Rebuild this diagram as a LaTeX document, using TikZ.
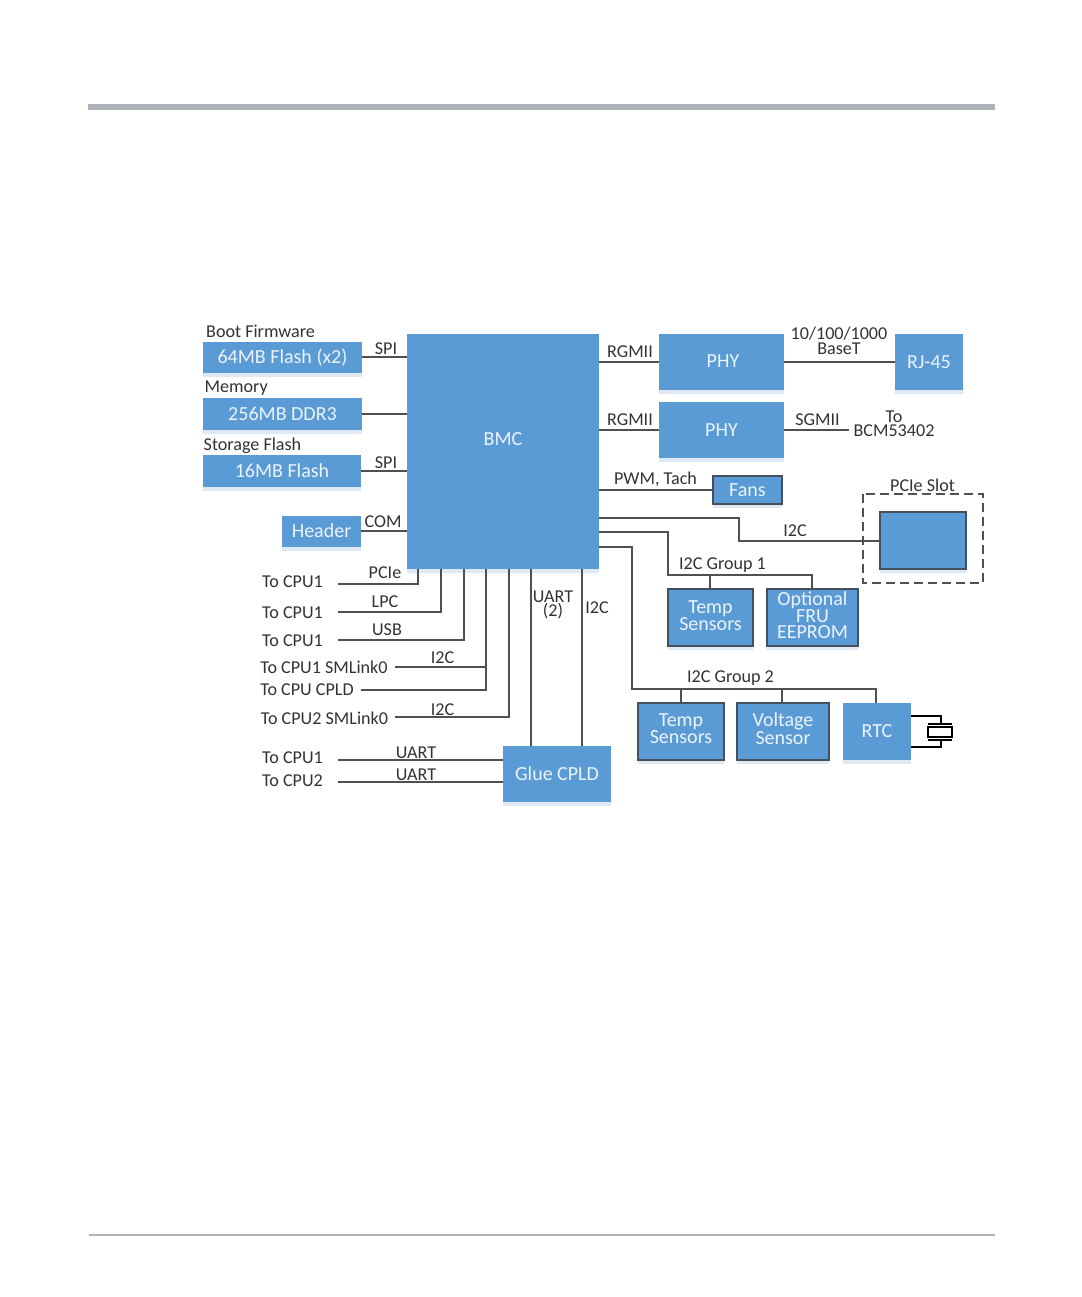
\documentclass[tikz,border=0pt]{standalone}
\usepackage{fontspec}
\setmainfont{Carlito}
\usepackage{tikz}
\pgfdeclarelayer{edgelayer}
\pgfdeclarelayer{nodelayer}
\pgfsetlayers{nodelayer,edgelayer,main}
\definecolor{chipblue}{RGB}{91,155,213}
\definecolor{chipshadow}{RGB}{222,233,245}
\definecolor{chipedge}{RGB}{70,80,92}
\definecolor{wiregrey}{RGB}{80,80,80}
\definecolor{rulegrey}{RGB}{174,178,184}
\definecolor{inkgrey}{RGB}{50,50,50}
\tikzset{
	chiptext/.style={text=white!88!chipblue, inner sep=0pt, align=center, font=\fontsize{20}{16}\selectfont},
	chip/.style={chiptext, fill=chipblue,
		preaction={draw=none, fill=chipshadow, transform canvas={yshift=-4pt}}},
	edged/.style={chip, draw=chipedge, line width=1.2pt},
	tag/.style={text=inkgrey, inner sep=0pt, align=center, yshift=-0.6pt, font=\fontsize{18.1}{14.5}\selectfont},
	wire/.style={draw=wiregrey, line width=1.4pt},
	pin/.style={draw=black, line width=1.6pt}
}
\begin{document}
\begin{tikzpicture}[x=1pt,y=1pt]
	\useasboundingbox (0,0) rectangle (1081,-1297);
	\begin{pgfonlayer}{nodelayer}
		% page rules
		\fill [rulegrey] (88,-104) rectangle (995,-110);
		\fill [rulegrey] (89,-1234) rectangle (995,-1236);
		% left side
		\node [chip, minimum width=159pt, minimum height=31pt] (flashboot) at (282.5,-357.5) {64MB Flash (x2)};
		\node [chip, minimum width=159pt, minimum height=32pt] (ddr) at (282.5,-414) {256MB DDR3};
		\node [chip, minimum width=158pt, minimum height=32pt] (flashstore) at (282,-471) {16MB Flash};
		\node [chip, minimum width=79pt, minimum height=31pt] (header) at (321.5,-531) {Header};
		\node [chip, minimum width=192pt, minimum height=235pt, label={[chiptext, yshift=12.5pt]center:BMC}] (bmc) at (503,-451.5) {};
		\node [chip, minimum width=108pt, minimum height=56pt] (glue) at (557,-774) {Glue CPLD};
		% right side
		\node [chip, minimum width=125pt, minimum height=56pt, label={[chiptext, xshift=1.5pt, yshift=1pt]center:PHY}] (phytop) at (721.5,-362) {};
		\node [chip, minimum width=125pt, minimum height=56pt] (phybot) at (721.5,-430) {PHY};
		\node [chip, minimum width=68pt, minimum height=56pt] (rj) at (929,-362) {RJ-45};
		\node [edged, minimum width=69pt, minimum height=28pt] (fans) at (747.5,-490) {Fans};
		\node [edged, minimum width=86pt, minimum height=57pt] (slot) at (923,-540.5) {};
		\node [edged, minimum width=85pt, minimum height=57pt, label={[chiptext, yshift=2pt]center:Temp\\Sensors}] (tempone) at (710.5,-617.5) {};
		\node [edged, minimum width=91pt, minimum height=57pt, label={[chiptext, yshift=2.5pt]center:Optional\\FRU\\EEPROM}] (fru) at (812.5,-617.5) {};
		\node [edged, minimum width=86pt, minimum height=57pt, label={[chiptext, yshift=2.5pt]center:Temp\\Sensors}] (temptwo) at (681,-731.5) {};
		\node [edged, minimum width=92pt, minimum height=57pt, label={[chiptext, yshift=3pt]center:Voltage\\Sensor}] (volt) at (783,-731.5) {};
		\node [chip, minimum width=68pt, minimum height=57pt] (rtc) at (877,-731.5) {RTC};
		% labels
		\node [tag, anchor=west] (bootlabel) at (206,-331) {Boot Firmware};
		\node [tag, anchor=west] (memlabel) at (204.5,-388) {Memory};
		\node [tag, anchor=west] (storelabel) at (203.5,-445) {Storage Flash};
		\node [tag] (spione) at (386,-348) {SPI};
		\node [tag] (spitwo) at (386,-462) {SPI};
		\node [tag] (comlabel) at (383,-521.5) {COM};
		\node [tag] (pcielabel) at (385,-572) {PCIe};
		\node [tag] (lpclabel) at (385,-601) {LPC};
		\node [tag] (usblabel) at (387,-629.5) {USB};
		\node [tag] (i2ctop) at (442.5,-657) {I2C};
		\node [tag] (i2cbot) at (442.5,-709) {I2C};
		\node [tag] (uartone) at (416,-752) {UART};
		\node [tag] (uarttwo) at (416,-774.5) {UART};
		\node [tag] (uartpair) at (553,-604.5) {UART\\(2)};
		\node [tag] (i2cglue) at (597,-607) {I2C};
		\node [tag] (cpua) at (292.5,-581) {To CPU1};
		\node [tag] (cpub) at (292.5,-612.5) {To CPU1};
		\node [tag] (cpuc) at (292.5,-640.5) {To CPU1};
		\node [tag] (smlinka) at (324,-666.5) {To CPU1 SMLink0};
		\node [tag] (cpld) at (307,-689) {To CPU CPLD};
		\node [tag] (smlinkb) at (324.5,-717.5) {To CPU2 SMLink0};
		\node [tag] (cpud) at (292.5,-757.5) {To CPU1};
		\node [tag] (cpue) at (292.5,-780) {To CPU2};
		\node [tag] (rgmiia) at (630,-351) {RGMII};
		\node [tag] (rgmiib) at (630,-419) {RGMII};
		\node [tag] (baset) at (839,-340) {10/100/1000\\BaseT};
		\node [tag] (sgmii) at (817.5,-419.5) {SGMII};
		\node [tag] (bcm) at (894,-423) {To\\BCM53402};
		\node [tag] (pwm) at (655.5,-479) {PWM, Tach};
		\node [tag] (i2cslot) at (795,-530) {I2C};
		\node [tag] (slotlabel) at (922.5,-485) {PCIe Slot};
		\node [tag] (groupone) at (722.5,-564.5) {I2C Group 1};
		\node [tag] (grouptwo) at (730.5,-677.5) {I2C Group 2};
	\end{pgfonlayer}
	\begin{pgfonlayer}{edgelayer}
		\coordinate (endpcie) at (338,-584);
		\coordinate (endlpc) at (338,-612);
		\coordinate (endusb) at (338,-640);
		\coordinate (endsma) at (395,-667);
		\coordinate (endcpld) at (361,-690);
		\coordinate (endsmb) at (395,-717);
		\coordinate (enduarta) at (338,-760);
		\coordinate (enduartb) at (338,-782);
		\coordinate (endsgmii) at (849,-430);
		\draw [wire] (flashboot.east |- 0,-357) to (bmc.west |- 0,-357);
		\draw [wire] (ddr.east) to (bmc.west |- ddr.east);
		\draw [wire] (flashstore.east) to (bmc.west |- flashstore.east);
		\draw [wire] (header.east) to (bmc.west |- header.east);
		\draw [wire] (bmc.south -| 418,0) to (418,-584) to (endpcie);
		\draw [wire] (bmc.south -| 441,0) to (441,-612) to (endlpc);
		\draw [wire] (bmc.south -| 464,0) to (464,-640) to (endusb);
		\draw [wire] (bmc.south -| 486,0) to (486,-690) to (endcpld);
		\draw [wire] (486,-667) to (endsma);
		\draw [wire] (bmc.south -| 509,0) to (509,-717) to (endsmb);
		\draw [wire] (bmc.south -| 531,0) to (glue.north -| 531,0);
		\draw [wire] (bmc.south -| 582,0) to (glue.north -| 582,0);
		\draw [wire] (glue.west |- enduarta) to (enduarta);
		\draw [wire] (glue.west |- enduartb) to (enduartb);
		\draw [wire] (bmc.east |- phytop.west) to (phytop.west);
		\draw [wire] (bmc.east |- phybot.west) to (phybot.west);
		\draw [wire] (phytop.east) to (rj.west);
		\draw [wire] (phybot.east) to (endsgmii);
		\draw [wire] (bmc.east |- fans.west) to (fans.west);
		\draw [wire] (bmc.east |- 0,-518) to (739,-518) to (739,-541) to (slot.west |- 0,-541);
		\draw [wire] (bmc.east |- 0,-532) to (668,-532) to (668,-575) to (812,-575) to (fru.north -| 812,0);
		\draw [wire] (710,-575) to (tempone.north -| 710,0);
		\draw [wire] (bmc.east |- 0,-547) to (632,-547) to (632,-689) to (876,-689) to (rtc.north -| 876,0);
		\draw [wire] (681,-689) to (temptwo.north -| 681,0);
		\draw [wire] (782,-689) to (volt.north -| 782,0);
		\draw [wire, dash pattern=on 9pt off 5pt, line width=1.6pt] (863,-494) rectangle (983,-583);
		% crystal symbol
		\draw [pin, fill=white] (928,-727) rectangle (952,-737);
		\draw [pin, line width=2pt] (928,-723.5) -- (952,-723.5);
		\draw [pin, line width=2pt] (928,-739.5) -- (952,-739.5);
		\draw [pin] (rtc.east |- 0,-716) to (941,-716) to (941,-723.5);
		\draw [pin] (rtc.east |- 0,-747) to (941,-747) to (941,-739.5);
	\end{pgfonlayer}
\end{tikzpicture}
\end{document}
